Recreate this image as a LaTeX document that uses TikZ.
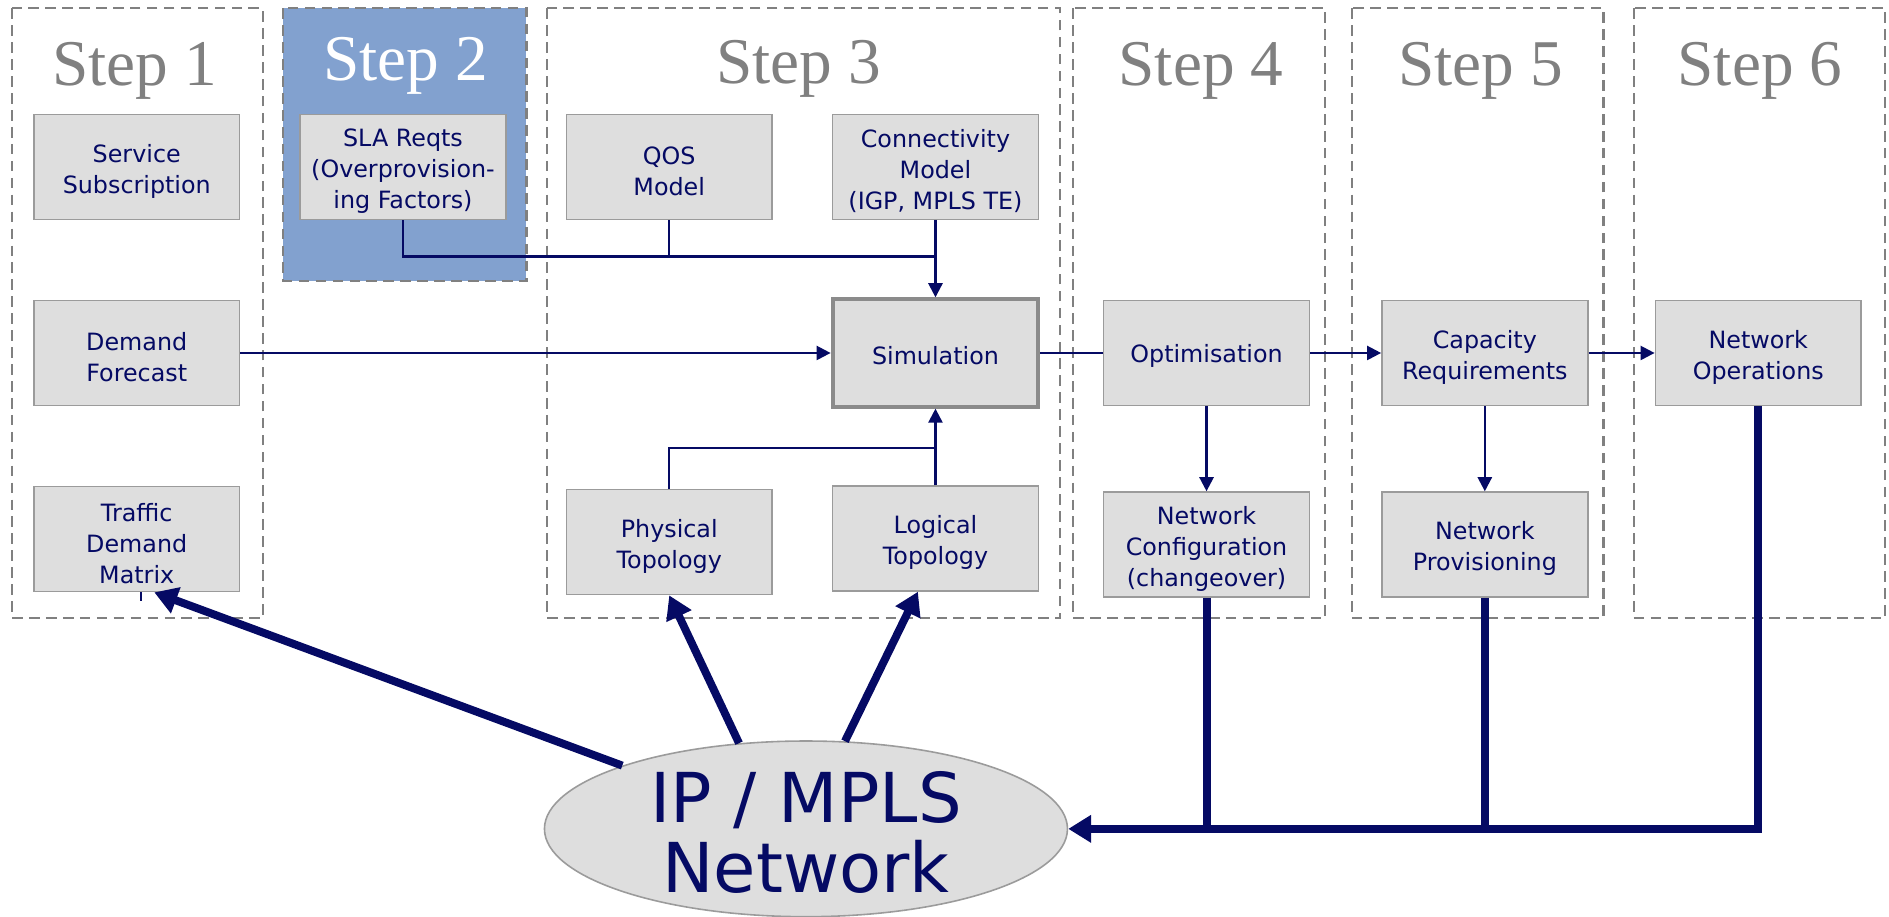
\documentclass[tikz,border=0pt]{standalone}
\usepackage{fontspec}
\setmainfont{Liberation Serif}
\setsansfont{DejaVu Sans}
\usetikzlibrary{shapes.geometric,arrows.meta}
\definecolor{navy}{RGB}{5,10,100}
\definecolor{boxgray}{RGB}{222,222,222}
\definecolor{edgegray}{RGB}{155,155,155}
\definecolor{stepblue}{RGB}{130,161,207}
\definecolor{titlegray}{RGB}{128,128,128}
\newcommand\boxstrut{\rule{0pt}{15pt}}
\begin{document}
\begin{tikzpicture}[x=0.024cm,y=-0.024cm,
    stepframe/.style={draw=titlegray,dash pattern=on 6pt off 3.6pt,line width=1.2pt},
    steptitle/.style={anchor=base,text=titlegray,font=\fontsize{37}{40}\selectfont},
    box/.style={draw=edgegray,fill=boxgray,line width=0.9pt,minimum width=4.1cm,
      minimum height=2.09cm,align=center,text=navy,inner sep=1pt,
      font=\sffamily\fontsize{13.5}{17.5}\selectfont},
    netcloud/.style={ellipse,draw=edgegray,fill=boxgray,line width=0.9pt,inner sep=0pt,
      minimum width=10.42cm,minimum height=3.5cm},
    netlabel/.style={align=center,text=navy,yshift=-0.07cm,
      font=\sffamily\fontsize{39}{40}\selectfont},
    link/.style={draw=navy,line width=1.3pt},
    flow/.style={link,-{Triangle[length=8pt,width=8pt]}},
    feed/.style={draw=navy,line width=4.5pt},
    feedarrow/.style={feed,-{Triangle[length=13pt,width=15pt]}}]
  \useasboundingbox (0,0) rectangle (1568,761);
  \draw[stepframe] (10,7) rectangle (218,513);
  \draw[stepframe,fill=stepblue] (235,7) rectangle (437,233);
  \draw[stepframe] (454,7) rectangle (880,513);
  \draw[stepframe] (891,7) rectangle (1100,513);
  \draw[stepframe] (1122,7) rectangle (1331,513);
  \draw[stepframe] (1356,7) rectangle (1565,513);
  \node[steptitle] (t1) at (112,71) {Step 1};
  \node[steptitle,text=white] (t2) at (337,67) {Step 2};
  \node[steptitle] (t3) at (663,69) {Step 3};
  \node[steptitle] (t4) at (997,71) {Step 4};
  \node[steptitle] (t5) at (1229,71) {Step 5};
  \node[steptitle] (t6) at (1461,71) {Step 6};
  \node[box] (subs) at (113.5,138.5) {\boxstrut Service\\Subscription};
  \node[box] (fcst) at (113.5,293) {\boxstrut Demand\\Forecast};
  \node[box] (tdm) at (113.5,447.5) {\boxstrut Traffic\\Demand\\Matrix};
  \node[box] (sla) at (334.5,138.5) {\boxstrut SLA Reqts\\(Overprovision-\\ing Factors)};
  \node[box] (qos) at (555.5,138.5) {\boxstrut QOS\\Model};
  \node[box] (conn) at (776.5,138.5) {\boxstrut Connectivity\\Model\\(IGP, MPLS TE)};
  \node[box,draw=edgegray!90!black,line width=2.2pt,minimum height=2.14cm] (sim) at (776.5,293) {\rule{0pt}{13.5pt}Simulation};
  \node[box] (phys) at (555.5,450) {\boxstrut Physical\\Topology};
  \node[box] (logi) at (776.5,447) {\boxstrut Logical\\Topology};
  \node[box] (opt) at (1001.5,293) {\rule{0pt}{13.5pt}Optimisation};
  \node[box] (ncfg) at (1001.5,452) {\boxstrut Network\\Configuration\\(changeover)};
  \node[box] (cap) at (1232.5,293) {\boxstrut Capacity\\Requirements};
  \node[box] (prov) at (1232.5,452) {\boxstrut Network\\Provisioning};
  \node[box] (ops) at (1459.5,293) {\boxstrut Network\\Operations};
  \node[netcloud,label={[netlabel]center:IP / MPLS\\Network}] (net) at (669,688) {};
  \coordinate (upjoin) at (776.5,213);
  \coordinate (lowjoin) at (776.5,372);
  \begin{scope}
    \draw[link] (sla.south) |- (upjoin);
    \draw[link] (qos.south) -- (qos.south |- upjoin);
    \draw[flow] (conn) -- (sim);
    \draw[flow] (fcst) -- (sim);
    \draw[link] (phys.north) |- (lowjoin);
    \draw[flow] (logi) -- (sim);
    \draw[link] (sim) -- (opt);
    \draw[flow] (opt) -- (cap);
    \draw[flow] (cap) -- (ops);
    \draw[flow] (opt) -- (ncfg);
    \draw[flow] (cap) -- (prov);
    \draw[link] ([xshift=0.08cm]tdm.south) -- ++(0,7);
  \end{scope}
  \begin{scope}
    \draw[feed] (ncfg.south) -- (ncfg.south |- net.east);
    \draw[feed] (prov.south) -- (prov.south |- net.east);
    \draw[feedarrow] (ops.south) |- (net.east);
    \draw[feedarrow] (net.161) -- ([xshift=0.35cm]tdm.south);
    \draw[feedarrow] (net.128) -- (phys.south);
    \draw[feedarrow] (net.66) -- ([xshift=-0.35cm]logi.south);
  \end{scope}
\end{tikzpicture}
\end{document}
